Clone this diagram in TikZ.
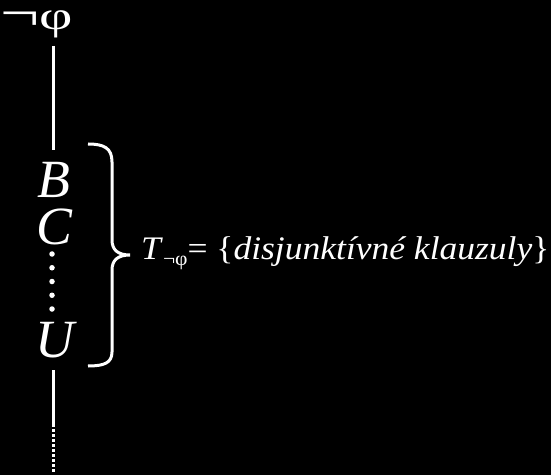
\documentclass[tikz,border=0pt]{standalone}
\usepackage{fontspec}
\setmainfont{Liberation Serif}
\begin{document}
\begin{tikzpicture}[x=1bp,y=-1bp,
  txt/.style={text=white,inner sep=0pt,anchor=base},
  big/.style={txt,font=\fontsize{54}{58}\selectfont\itshape},
  wire/.style={draw=white,line width=3bp},
  dotline/.style={draw=white,line width=5.5bp,line cap=round,dash pattern=on 0bp off 13.75bp},
  dashline/.style={draw=white,line width=3bp,dash pattern=on 3bp off 2bp}]
\fill[black] (0,0) rectangle (551,475);
\useasboundingbox (0,0) rectangle (551,475);
\node[txt,font=\fontsize{40}{44}\selectfont] (neg) at (20,31) {\scalebox{1.75}[1.3]{¬}};
\node[txt,font=\fontsize{40}{44}\selectfont] (phi) at (56,30) {\scalebox{1.45}[1]{φ}};
\node[big] (B) at (54,198) {B};
\node[big] (C) at (54,245) {C};
\node[big] (U) at (55,357) {U};
\coordinate (t1) at (53,46);
\coordinate (t2) at (53,150);
\coordinate (d1) at (52,254);
\coordinate (d2) at (52,310);
\coordinate (l1) at (53,370);
\coordinate (l2) at (53,424);
\coordinate (l3) at (53,474);
\draw[wire] (t1) -- (t2);
\draw[dotline] (d1) -- (d2);
\draw[wire] (l1) -- (l2);
\draw[dashline] (l2) -- (l3);
\draw[wire]
  (88,144) .. controls (104,144) and (112,148) .. (112,162) -- (112,240)
  .. controls (112,250) and (118,255) .. (130,255)
  .. controls (118,255) and (112,260) .. (112,270) -- (112,352)
  .. controls (112,363) and (104,366) .. (88,366);
\coordinate (tip) at (130,255);
\node[txt,anchor=base west,font=\fontsize{33}{36}\selectfont] (T) at (141,260)
  {\scalebox{1.08}[1]{\textit{T}\raisebox{-6bp}{\fontsize{20}{22}\selectfont ¬φ}= \{\textit{disjunktívné klauzuly}\}}};
\end{tikzpicture}
\end{document}
